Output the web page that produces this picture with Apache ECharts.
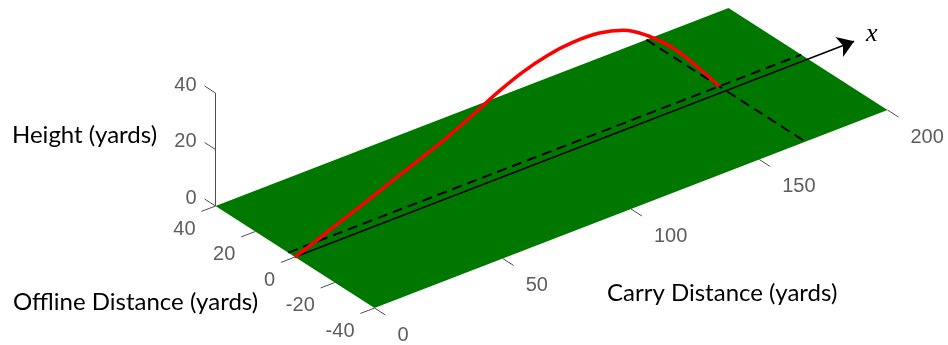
<!DOCTYPE html>
<html>
<head>
<meta charset="utf-8">
<script src="https://cdn.jsdelivr.net/npm/echarts@6/dist/echarts.min.js"></script>
<style>
  html, body { margin: 0; padding: 0; background: #fff; }
  #chart { width: 948px; height: 345px; }
</style>
</head>
<body>
<div id="chart"></div>
<script>
// ball flight (yards)
const carry   = [0, 10, 20, 30, 40, 50, 60, 70, 80, 90, 100, 110, 120, 130, 140, 150, 160, 168];
const offline = [0, 0.1, 0.2, 0.4, 0.6, 0.8, 1.0, 1.2, 1.4, 1.6, 1.8, 2.0, 2.3, 2.5, 2.8, 3.0, 3.2, 3.4];
const height  = [0, 3.4, 6.9, 10.3, 13.8, 17.2, 20.8, 25.0, 29.5, 33.2, 35.6, 36.6, 36.1, 33.6, 27.9, 19.9, 9.3, 0];

const landing = [168, 3.4];       // carry, offline where the ball lands
const arrowCarry = 218;           // end of the x direction arrow

const carryTicks = [0, 50, 100, 150, 200];
const offlineTicks = [40, 20, 0, -20, -40];
const heightTicks = [0, 20, 40];

const carryRange = [0, 200];
const offlineRange = [-40, 40];

// 3D view: (carry, offline, height) -> hidden 2D cartesian plane
const VIEW = {
  origin: [295, 257],
  c: [2.565, -0.99],
  o: [-1.9875, -1.275],
  h: [0, -2.825]
};
function proj(c, o, h) {
  return [
    VIEW.origin[0] + c * VIEW.c[0] + o * VIEW.o[0] + h * VIEW.h[0],
    VIEW.origin[1] + c * VIEW.c[1] + o * VIEW.o[1] + h * VIEW.h[1]
  ];
}

const TICK = 5.5; // tick length in yards
const tickLines = [];
// height axis
tickLines.push({ coords: [proj(0, offlineRange[1], 0), proj(0, offlineRange[1], heightTicks[heightTicks.length - 1])] });
heightTicks.forEach((h) => {
  tickLines.push({ coords: [proj(0, offlineRange[1], h), proj(0, offlineRange[1] + TICK, h)] });
});
offlineTicks.forEach((o) => {
  tickLines.push({ coords: [proj(0, o, 0), proj(-TICK, o, 0)] });
});
carryTicks.forEach((c) => {
  tickLines.push({ coords: [proj(c, offlineRange[0], 0), proj(c, offlineRange[0] - TICK, 0)] });
});

const tickFont = { fontFamily: 'Liberation Sans', fontSize: 20, color: '#333333' };
const titleFont = { fontFamily: 'Lato', fontSize: 24, fill: '#000' };

function labelSeries(points, label) {
  return {
    type: 'scatter',
    symbolSize: 0,
    silent: true,
    z: 5,
    data: points,
    label: Object.assign({ show: true, position: 'inside', verticalAlign: 'middle' }, tickFont, label)
  };
}

const chart = echarts.init(document.getElementById('chart'));

const option = {
  animation: false,
  grid: { left: 0, right: 0, top: 0, bottom: 0 },
  xAxis: { type: 'value', min: 0, max: 948, show: false },
  yAxis: { type: 'value', min: 0, max: 345, inverse: true, show: false },
  graphic: [
    { type: 'text', left: 12, top: 123, style: Object.assign({ text: 'Height (yards)' }, titleFont) },
    { type: 'text', left: 13, top: 290, style: Object.assign({ text: 'Offline Distance (yards)' }, titleFont) },
    { type: 'text', left: 607, top: 281, style: Object.assign({ text: 'Carry Distance (yards)' }, titleFont) },
    { type: 'text', left: 866, top: 21, style: { text: 'x', fontFamily: 'Liberation Serif', fontStyle: 'italic', fontSize: 26, fill: '#000' } }
  ],
  series: [
    {
      // ground plane
      type: 'custom',
      z: 1,
      silent: true,
      data: [[0, 0]],
      renderItem: (params, api) => ({
        type: 'polygon',
        shape: {
          points: [
            proj(carryRange[0], offlineRange[1], 0),
            proj(carryRange[1], offlineRange[1], 0),
            proj(carryRange[1], offlineRange[0], 0),
            proj(carryRange[0], offlineRange[0], 0)
          ].map((p) => api.coord(p))
        },
        style: { fill: '#007800', stroke: null }
      })
    },
    {
      type: 'lines',
      coordinateSystem: 'cartesian2d',
      z: 2,
      silent: true,
      lineStyle: { color: '#4d4d4d', width: 1, opacity: 1 },
      data: tickLines
    },
    {
      // landing lines
      type: 'lines',
      coordinateSystem: 'cartesian2d',
      z: 3,
      silent: true,
      lineStyle: { color: '#000', width: 2, type: [10, 6], opacity: 1 },
      data: [
        { coords: [proj(carryRange[0], landing[1], 0), proj(carryRange[1], landing[1], 0)] },
        { coords: [proj(landing[0], offlineRange[1], 0), proj(landing[0], offlineRange[0], 0)] }
      ]
    },
    {
      // x direction
      type: 'lines',
      coordinateSystem: 'cartesian2d',
      z: 3,
      silent: true,
      symbol: ['none', 'arrow'],
      symbolSize: [10, 16],
      lineStyle: { color: '#000', width: 1.5, opacity: 1 },
      data: [{ coords: [proj(0, 0, 0), proj(arrowCarry, 0, 0)] }]
    },
    {
      name: 'Trajectory',
      type: 'line',
      z: 4,
      silent: true,
      smooth: 0.4,
      symbol: 'none',
      lineStyle: { color: '#ff0000', width: 3.5 },
      data: carry.map((c, i) => proj(c, offline[i], height[i]))
    },
    labelSeries(heightTicks.map((h) => ({ value: proj(0, offlineRange[1], h), name: String(h) })),
      { align: 'right', offset: [-19, -8], formatter: (p) => p.name }),
    labelSeries(offlineTicks.map((o) => ({ value: proj(0, o, 0), name: String(o) })),
      { align: 'right', offset: [-20, 23], formatter: (p) => p.name }),
    labelSeries(carryTicks.map((c) => ({ value: proj(c, offlineRange[0], 0), name: String(c) })),
      { align: 'left', offset: [23, 27], formatter: (p) => p.name })
  ]
};

chart.setOption(option);
window.addEventListener('resize', () => chart.resize());
</script>
</body>
</html>
